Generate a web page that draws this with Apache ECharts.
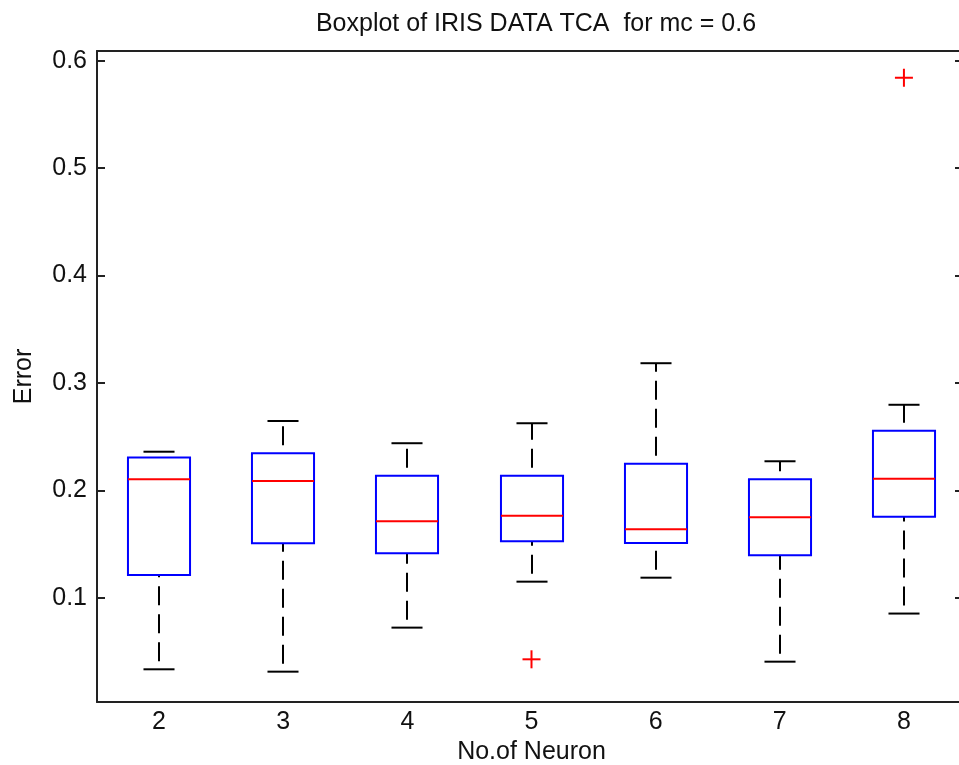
<!DOCTYPE html>
<html>
<head>
<meta charset="utf-8">
<script src="https://cdn.jsdelivr.net/npm/echarts/dist/echarts.min.js"></script>
<style>
html,body{margin:0;padding:0;background:#fff;}
#chart{width:959px;height:765px;}
</style>
</head>
<body>
<div id="chart"></div>
<script>
// ---- data ----
const categories = ['2', '3', '4', '5', '6', '7', '8'];
const whiskerLow  = [0.0333, 0.0311, 0.0721, 0.1149, 0.1186, 0.0404, 0.0852];
const quartile1   = [0.1211, 0.1507, 0.1413, 0.1525, 0.1509, 0.1395, 0.1754];
const medians     = [0.2102, 0.2087, 0.1711, 0.1763, 0.1637, 0.1749, 0.2107];
const quartile3   = [0.2304, 0.2345, 0.2136, 0.2136, 0.2248, 0.2102, 0.2553];
const whiskerHigh = [0.2359, 0.2645, 0.2438, 0.2624, 0.3183, 0.2270, 0.2796];
const outliers    = [[3, 0.0426], [6, 0.5841]];
const yTicks      = [0.1, 0.2, 0.3, 0.4, 0.5, 0.6];
const titleText   = 'Boxplot of IRIS DATA TCA  for mc = 0.6';
const xName       = 'No.of Neuron';
const yName       = 'Error';

const boxData = categories.map((c, i) => [i, whiskerLow[i], quartile1[i], medians[i], quartile3[i], whiskerHigh[i]]);

const FONT = 'Liberation Sans';
const chart = echarts.init(document.getElementById('chart'), null, {renderer: 'canvas'});

function renderBox(params, api) {
  const i = api.value(0);
  const lo = api.coord([i, api.value(1)]);
  const q1 = api.coord([i, api.value(2)]);
  const md = api.coord([i, api.value(3)]);
  const q3 = api.coord([i, api.value(4)]);
  const hi = api.coord([i, api.value(5)]);
  const band = api.size([1, 0])[0];
  const bw = band * 0.5, cw = band * 0.25;
  const cx = Math.round(q1[0]);
  const dashStyle = {stroke: '#000', lineWidth: 2, lineDash: [19, 9], lineDashOffset: 20, fill: null};
  const solid = c => ({stroke: c, lineWidth: 2, fill: null});
  return {
    type: 'group',
    children: [
      {type: 'line', shape: {x1: cx, y1: q3[1], x2: cx, y2: hi[1]}, style: dashStyle},
      {type: 'line', shape: {x1: cx, y1: lo[1], x2: cx, y2: q1[1]}, style: dashStyle},
      {type: 'line', shape: {x1: cx - cw / 2, y1: hi[1], x2: cx + cw / 2, y2: hi[1]}, style: solid('#000')},
      {type: 'line', shape: {x1: cx - cw / 2, y1: lo[1], x2: cx + cw / 2, y2: lo[1]}, style: solid('#000')},
      {type: 'rect', shape: {x: cx - bw / 2, y: q3[1], width: bw, height: q1[1] - q3[1]}, style: solid('#0000ff')},
      {type: 'line', shape: {x1: cx - bw / 2, y1: md[1], x2: cx + bw / 2, y2: md[1]}, style: solid('#ff0000')}
    ]
  };
}

function renderOutlier(params, api) {
  const p = api.coord([api.value(0), api.value(1)]);
  const h = 9;
  const st = {stroke: '#ff0000', lineWidth: 2, fill: null};
  return {
    type: 'group',
    children: [
      {type: 'line', shape: {x1: p[0] - h, y1: p[1], x2: p[0] + h, y2: p[1]}, style: st},
      {type: 'line', shape: {x1: p[0], y1: p[1] - h, x2: p[0], y2: p[1] + h}, style: st}
    ]
  };
}

const axisLineStyle = {color: '#222', width: 2};
const option = {
  backgroundColor: '#fff',
  animation: false,
  title: {
    text: titleText, left: 531, top: 7, textAlign: 'center',
    textStyle: {fontFamily: FONT, fontSize: 25, fontWeight: 'normal', color: '#111'}
  },
  grid: {left: 97, right: -7, top: 51, bottom: 63, containLabel: false, outerBoundsMode: 'none'},
  xAxis: [
    {
      type: 'category', data: categories, position: 'bottom',
      axisLine: {show: true, lineStyle: axisLineStyle},
      axisTick: {show: false},
      axisLabel: {fontFamily: FONT, fontSize: 25, color: '#111', margin: 8},
      splitLine: {show: false},
      name: xName, nameLocation: 'middle', nameGap: 36,
      nameTextStyle: {fontFamily: FONT, fontSize: 25, color: '#111'}
    },
    {
      type: 'category', data: categories, position: 'top',
      axisLine: {show: true, lineStyle: axisLineStyle},
      axisTick: {show: false}, axisLabel: {show: false}, splitLine: {show: false}
    }
  ],
  yAxis: [
    {
      type: 'value', min: 0.00285, max: 0.6090, position: 'left',
      axisLine: {show: true, lineStyle: axisLineStyle},
      axisTick: {show: true, inside: true, length: 8, customValues: yTicks, lineStyle: {color: '#222', width: 2}},
      axisLabel: {show: true, customValues: yTicks, formatter: v => v.toFixed(1), fontFamily: FONT, fontSize: 25, color: '#111', margin: 10},
      splitLine: {show: false},
      name: yName, nameLocation: 'middle', nameRotate: 90, nameGap: 60,
      nameTextStyle: {fontFamily: FONT, fontSize: 25, color: '#111'}
    },
    {
      type: 'value', min: 0.00285, max: 0.6090, position: 'right', offset: -3,
      axisLine: {show: true, lineStyle: axisLineStyle},
      axisTick: {show: true, inside: true, length: 8, customValues: yTicks, lineStyle: {color: '#222', width: 2}},
      axisLabel: {show: false}, splitLine: {show: false}
    }
  ],
  series: [
    {
      type: 'custom', xAxisIndex: 0, yAxisIndex: 0,
      renderItem: renderBox, data: boxData,
      encode: {x: 0, y: [1, 2, 3, 4, 5]}, clip: false
    },
    {
      type: 'custom', xAxisIndex: 0, yAxisIndex: 0,
      renderItem: renderOutlier, data: outliers,
      encode: {x: 0, y: 1}, clip: false
    }
  ]
};
chart.setOption(option);
</script>
</body>
</html>
